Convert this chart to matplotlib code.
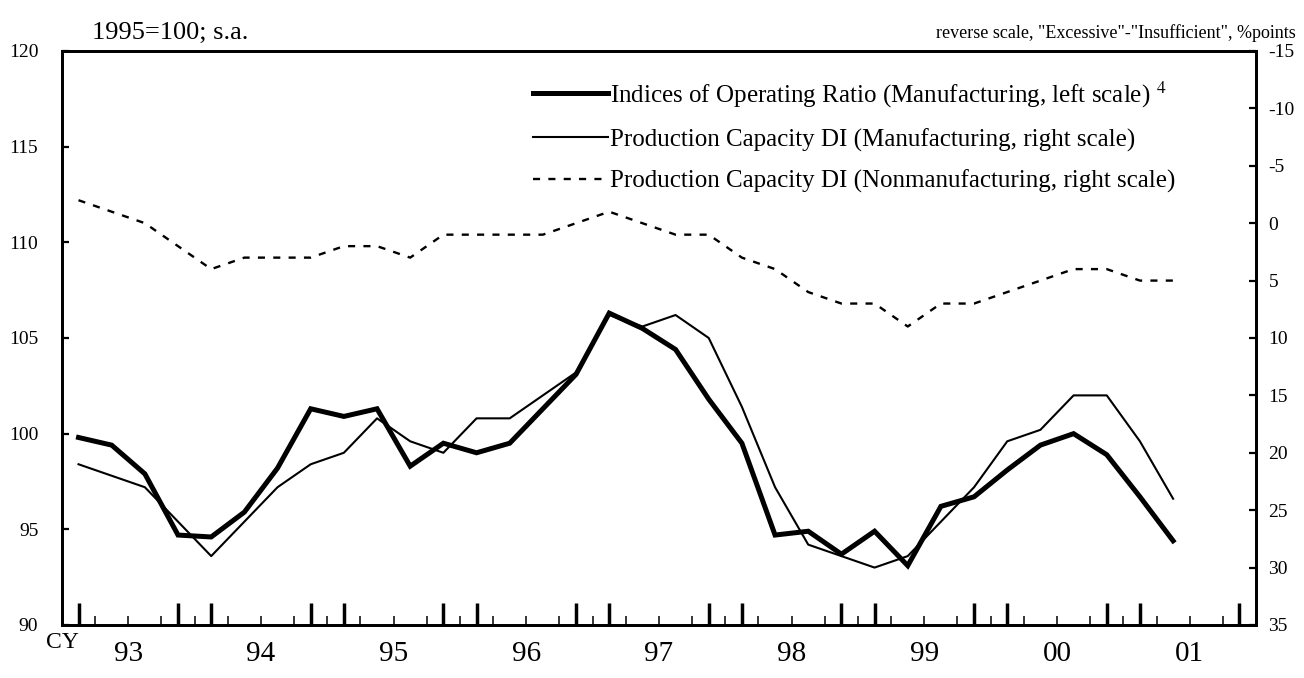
import matplotlib
matplotlib.use('Agg')
import matplotlib.pyplot as plt
from matplotlib.lines import Line2D
import numpy as np

plt.rcParams['font.family'] = ['Liberation Serif', 'DejaVu Serif']
plt.rcParams['mathtext.fontset'] = 'stix'
plt.rcParams['axes.unicode_minus'] = False

# quarterly data, 1993Q1 .. 2001Q2
operating_ratio = [99.8, 99.4, 97.9, 94.7, 94.6, 95.9, 98.2, 101.3, 100.9, 101.3,
                   98.3, 99.5, 99.0, 99.5, 101.3, 103.1, 106.3, 105.5, 104.4, 101.8,
                   99.5, 94.7, 94.9, 93.7, 94.9, 93.1, 96.2, 96.7, 98.1, 99.4,
                   100.0, 98.9, 96.7, 94.4]
di_manufacturing = [21, 22, 23, 26, 29, 26, 23, 21, 20, 17,
                    19, 20, 17, 17, 15, 13, 8, 9, 8, 10,
                    16, 23, 28, 29, 30, 29, 26, 23, 19, 18,
                    15, 15, 19, 24]
di_nonmanufacturing = [-2, -1, 0, 2, 4, 3, 3, 3, 2, 2,
                       3, 1, 1, 1, 1, 0, -1, 0, 1, 1,
                       3, 4, 6, 7, 7, 9, 7, 7, 6, 5,
                       4, 4, 5, 5]
year_labels = ['93', '94', '95', '96', '97', '98', '99', '00', '01']
left_ticks = [90, 95, 100, 105, 110, 115, 120]
right_ticks = [-15, -10, -5, 0, 5, 10, 15, 20, 25, 30, 35]

labels = ['Indices of Operating Ratio (Manufacturing, left scale) $^{4}$',
          'Production Capacity DI (Manufacturing, right scale)',
          'Production Capacity DI (Nonmanufacturing, right scale)']

q = np.arange(len(operating_ratio))
n_quarters = 4 * len(year_labels)

fig = plt.figure(figsize=(13.04, 6.78), dpi=100)
ax = fig.add_axes([0.0475, 0.0782, 0.9157, 0.8466])
ax2 = ax.twinx()

ax2.plot(q, di_manufacturing, color='black', lw=1.5)
ax2.plot(q, di_nonmanufacturing, color='black', lw=1.7, linestyle=(0, (3, 3.5)))
ax.plot(q, operating_ratio, color='black', lw=3.6, solid_joinstyle='miter')

ax.set_zorder(ax2.get_zorder() + 1)
ax.patch.set_visible(False)

ax.set_xlim(-0.5, n_quarters - 0.5)
ax.set_ylim(90, 120)
ax2.set_ylim(35, -15)
ax.set_yticks(left_ticks)
ax2.set_yticks(right_ticks)

# x ticks: thick at Q1 and Q4 of every year, thin at quarter boundaries
major = sorted([4 * k for k in range(len(year_labels))] + [4 * k + 3 for k in range(len(year_labels))])
minor = [k - 0.5 for k in range(1, n_quarters)]
ax.set_xticks(major)
ax.set_xticks(minor, minor=True)
ax.set_xticklabels([])
ax.tick_params(axis='x', which='major', direction='in', length=15.5, width=2.5, bottom=True, top=False)
ax.tick_params(axis='x', which='minor', direction='in', length=6.5, width=1.1, bottom=True, top=False)
ax.tick_params(axis='y', direction='in', length=5, width=1.6, labelsize=14, pad=17)
ax2.tick_params(axis='y', direction='in', length=5, width=1.6, labelsize=14, pad=9)
for a in (ax, ax2):
    for s in a.spines.values():
        s.set_linewidth(2.0)

for k, yl in enumerate(year_labels):
    ax.text(4 * k + 1.5, -0.05, yl, transform=ax.get_xaxis_transform(),
            ha='center', va='center', fontsize=21)
ax.text(-0.5, -0.013, 'CY', transform=ax.get_xaxis_transform(),
        ha='center', va='top', fontsize=17)

fig.text(0.0705, 0.951, '1995=100; s.a.', ha='left', va='center', fontsize=19)
fig.text(0.994, 0.951, 'reverse scale, "Excessive"-"Insufficient", %points',
         ha='right', va='center', fontsize=13)

handles = [Line2D([], [], color='black', lw=3.6),
           Line2D([], [], color='black', lw=1.5),
           Line2D([], [], color='black', lw=1.7, linestyle=(0, (3, 3.5)))]
ax.legend(handles, labels, loc='upper left', bbox_to_anchor=(0.3865, 0.968),
          frameon=False, fontsize=18, handlelength=3.0, handletextpad=0.05,
          labelspacing=0.74, borderaxespad=0)

fig.savefig('out.png', dpi=100)
